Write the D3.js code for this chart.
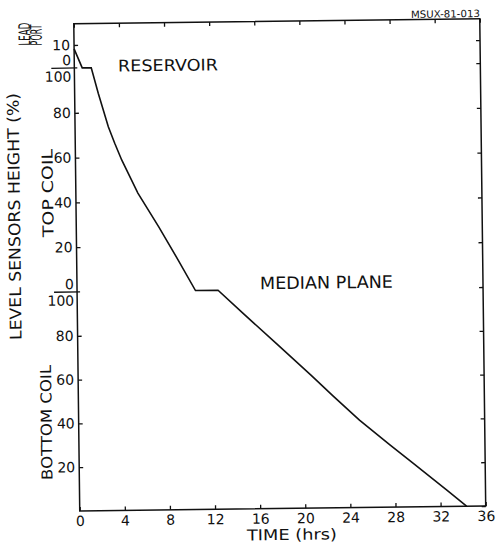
<!DOCTYPE html>
<html>
<head>
<meta charset="utf-8">
<script src="https://cdn.jsdelivr.net/npm/d3@7"></script>
<style>
  body { margin: 0; background: #fff; }
  text { font-family: "DejaVu Sans", sans-serif; fill: #111; }
</style>
</head>
<body>
<div id="chart"></div>
<script>
// time axis (hrs)
const timeTicks = [0, 4, 8, 12, 16, 20, 24, 28, 32, 36];
// level axis ticks, one list per sensor
const leadTicks = [10];
const topTicks = [80, 60, 40, 20];
const bottomTicks = [80, 60, 40, 20];

// level curve (zone = which sensor scale it is on)
const time  = [0, 0.7, 1.5, 2.1, 2.95, 3.5, 4.1, 5.5, 7.3, 9.0, 10.5, 12.5, 14.7, 17.6, 20.6, 22.6, 24.9, 27.6, 29.6, 32.6, 34.3];
const zone  = ["lead", "lead", "top", "top", "top", "top", "top", "top", "top", "top", "top",
               "bottom", "bottom", "bottom", "bottom", "bottom", "bottom", "bottom", "bottom", "bottom", "bottom"];
const level = [8.3, 0, 100, 88.5, 73.6, 66.2, 58.7, 43.8, 28.7, 13.7, 0, 100, 89.3, 75.4, 61.0, 51.0, 39.9, 28.3, 20.0, 7.4, 0];

const width = 497, height = 544;
const plotLeft = 76.75, plotRight = 482.75, plotTop = 21.25, plotBottom = 508.5;

const svg = d3.select("#chart")
    .append("svg")
    .attr("width", width)
    .attr("height", height);

// the scan is slightly tilted
const g = svg.append("g")
    .attr("transform", "rotate(-0.7, 280, 265)");

const x = d3.scaleLinear().domain([0, 36]).range([plotLeft, plotRight]);
const yLead = d3.scaleLinear().domain([0, 10]).range([65.5, 42.5]);
const yTop = d3.scaleLinear().domain([0, 100]).range([289.5, 65.5]);
const yBottom = d3.scaleLinear().domain([0, 100]).range([plotBottom, 289.5]);
const yOf = {lead: yLead, top: yTop, bottom: yBottom};

function styleAxis(sel) {
    sel.select(".domain").remove();
    sel.selectAll("line").attr("stroke", "#111").attr("stroke-width", 1.3);
    sel.selectAll("text").style("font-size", "14px");
}

// bottom and top time axes
g.append("g")
    .attr("transform", `translate(0,${plotBottom})`)
    .call(d3.axisBottom(x).tickValues(timeTicks).tickSize(-4).tickPadding(5))
    .call(styleAxis);
g.append("g")
    .attr("transform", `translate(0,${plotTop})`)
    .call(d3.axisTop(x).tickValues(timeTicks).tickSize(-4).tickFormat(""))
    .call(styleAxis);

// left level axes, one per sensor
[[yLead, leadTicks], [yTop, topTicks], [yBottom, bottomTicks]].forEach(([s, t]) => {
    g.append("g")
        .attr("transform", `translate(${plotLeft},0)`)
        .call(d3.axisLeft(s).tickValues(t).tickSize(-4).tickPadding(4))
        .call(styleAxis);
    g.append("g")
        .attr("transform", `translate(${plotRight},0)`)
        .call(d3.axisRight(s).tickValues(t.concat([0])).tickSize(-4).tickFormat(""))
        .call(styleAxis);
});

// dividers between sensors with "0" above and "100" below
[yLead(0), yTop(0)].forEach(yy => {
    g.append("line")
        .attr("x1", plotLeft - 23).attr("x2", plotLeft + 3)
        .attr("y1", yy).attr("y2", yy)
        .attr("stroke", "#111").attr("stroke-width", 1.3);
    g.append("text")
        .attr("x", plotLeft - 3).attr("y", yy - 3)
        .attr("text-anchor", "end")
        .style("font-size", "14px")
        .text("0");
    g.append("text")
        .attr("x", plotLeft - 3).attr("y", yy + 13.5)
        .attr("text-anchor", "end")
        .style("font-size", "14px")
        .text("100");
});

// frame
g.append("rect")
    .attr("x", plotLeft).attr("y", plotTop)
    .attr("width", plotRight - plotLeft).attr("height", plotBottom - plotTop)
    .attr("fill", "none")
    .attr("stroke", "#111")
    .attr("stroke-width", 1.5);

// level curve
const line = d3.line()
    .x((d, i) => x(time[i]))
    .y((d, i) => yOf[zone[i]](level[i]));
g.append("path")
    .datum(level)
    .attr("d", line)
    .attr("fill", "none")
    .attr("stroke", "#111")
    .attr("stroke-width", 1.6);

// labels
function label(txt, px, py, size, len, rot, anchor) {
    g.append("text")
        .attr("transform", `translate(${px},${py})` + (rot ? " rotate(-90)" : ""))
        .attr("text-anchor", anchor || "middle")
        .attr("textLength", len)
        .attr("lengthAdjust", "spacingAndGlyphs")
        .style("font-size", size + "px")
        .text(txt);
}
label("RESERVOIR", 120.4, 69.5, 16, 100, false, "start");
label("MEDIAN PLANE", 259.7, 289, 17, 133, false, "start");
label("TIME (hrs)", 243.6, 540, 15, 90, false, "start");
label("MSUX-81-013", 483, 19.5, 10, 69, false, "end");
label("LEVEL SENSORS HEIGHT (%)", 20.6, 213.3, 16, 247, true);
label("TOP COIL", 53.9, 190.2, 15, 88, true);
label("BOTTOM COIL", 49.8, 419.6, 15, 115, true);
label("LEAD", 33, 31, 16, 23, true);
label("PORT", 44.5, 32, 16, 21, true);
</script>
</body>
</html>
